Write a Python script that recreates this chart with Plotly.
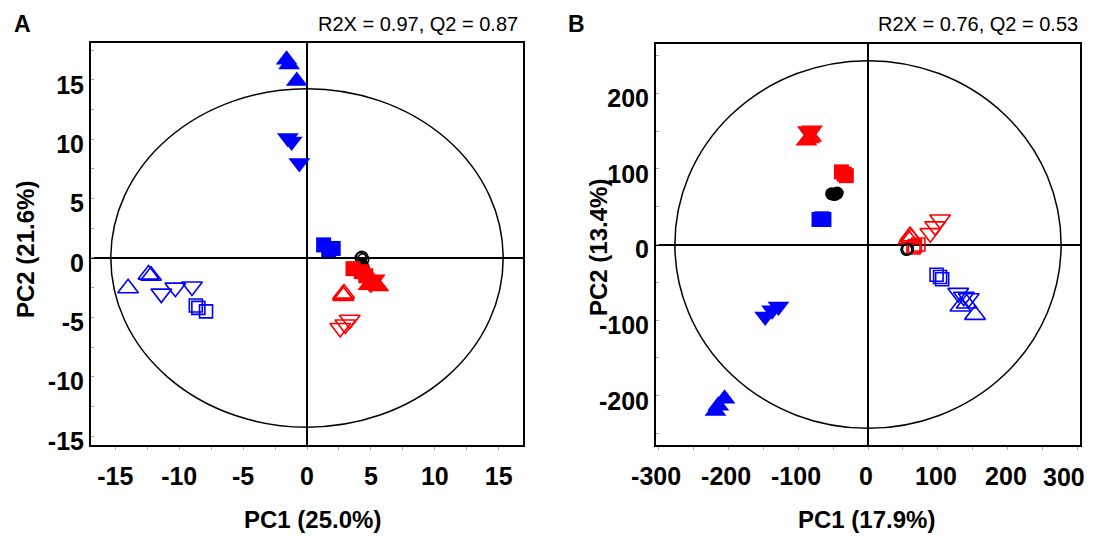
import plotly.graph_objects as go

# ---------------- data ----------------
# Panel A (PC1 25.0 %, PC2 21.6 %)
a_blue_fill_up_x = [-1.6, -1.4, -0.8]
a_blue_fill_up_y = [16.7, 16.3, 14.9]
a_blue_fill_dn_x = [-1.5, -1.2, -0.6]
a_blue_fill_dn_y = [10.1, 9.8, 8.0]
a_blue_fill_sq_x = [1.3, 2.05, 1.7]
a_blue_fill_sq_y = [1.1, 0.8, 0.7]
a_blue_open_up_x = [-14.0, -12.4, -12.2]
a_blue_open_up_y = [-2.55, -1.4, -1.5]
a_blue_open_dn_x = [-11.4, -10.3, -9.0]
a_blue_open_dn_y = [-3.0, -2.5, -2.4]
a_blue_open_sq_x = [-8.7, -8.5, -7.9]
a_blue_open_sq_y = [-4.0, -4.2, -4.5]
a_red_fill_up_x = [4.8, 5.2, 5.6]
a_red_fill_up_y = [-2.3, -2.0, -2.4]
a_red_fill_dn_x = [4.7, 5.0, 5.3]
a_red_fill_dn_y = [-1.9, -2.2, -1.8]
a_red_fill_sq_x = [3.6, 4.25, 4.6]
a_red_fill_sq_y = [-0.9, -1.15, -1.5]
a_red_open_up_x = [2.8, 2.9, 2.85]
a_red_open_up_y = [-3.1, -3.0, -3.2]
a_red_open_dn_x = [2.6, 3.0, 3.35]
a_red_open_dn_y = [-5.9, -5.6, -5.2]
a_black_fill_x = [4.3, 4.4]
a_black_fill_y = [-0.6, -0.8]
a_black_open_x = [4.3, 4.4, 4.2]
a_black_open_y = [0.1, -0.1, 0.0]
a_ellipse = [15.35, 14.25]          # Hotelling T2 semi-axes (PC1, PC2)
a_x_ticks = [-15, -10, -5, 0, 5, 10, 15]
a_y_ticks = [-15, -10, -5, 0, 5, 10, 15]

# Panel B (PC1 17.9 %, PC2 13.4 %)
b_blue_fill_up_x = [-218, -214, -205]
b_blue_fill_up_y = [-220, -213, -204]
b_blue_fill_dn_x = [-147, -137, -128]
b_blue_fill_dn_y = [-95, -87, -82]
b_blue_fill_sq_x = [-70, -63, -66]
b_blue_fill_sq_y = [33, 33, 34]
b_blue_open_up_x = [132, 141, 153]
b_blue_open_up_y = [-82, -78, -93]
b_blue_open_dn_x = [129, 137, 144]
b_blue_open_dn_y = [-64, -69, -71]
b_blue_open_sq_x = [98, 103, 106]
b_blue_open_sq_y = [-40, -43, -46]
b_red_fill_up_x = [-88, -84, -81]
b_red_fill_up_y = [137, 140, 142]
b_red_fill_dn_x = [-86, -83, -80]
b_red_fill_dn_y = [150, 147, 151]
b_red_fill_sq_x = [-38, -31, -34]
b_red_fill_sq_y = [96, 91, 93]
b_red_open_up_x = [60, 58, 62]
b_red_open_up_y = [11, 7, 9]
b_red_open_dn_x = [103, 96, 89]
b_red_open_dn_y = [33, 24, 15]
b_red_open_sq_x = [67, 72, 65]
b_red_open_sq_y = [-2, 0, -4]
b_black_fill_x = [-52, -44, -48]
b_black_fill_y = [67, 68, 66]
b_black_open_x = [55, 57]
b_black_open_y = [-7, -6]
b_ellipse = [276, 243]
b_x_ticks = [-300, -200, -100, 0, 100, 200, 300]
b_y_ticks = [-200, -100, 0, 100, 200]

BLUE = "#0000FF"
RED = "#FF0000"
BLACK = "#000000"
FONT = "Liberation Sans, Arial, sans-serif"

# page offset of the plot div (browser default body margin)
OFF = 8
W, H = 1080, 528


def px_x(p):
    return (p - OFF) / W


def px_y(p):
    return 1 - (p - OFF) / H


fig = go.Figure()


def add(xs, ys, color, symbol, size, axes):
    xa, ya = axes
    opened = symbol.endswith("-open")
    fig.add_trace(go.Scatter(
        x=xs, y=ys, mode="markers", xaxis=xa, yaxis=ya, showlegend=False,
        marker=dict(symbol=symbol, size=size, color=color,
                    line=dict(color=color, width=1.6 if opened else 0)),
    ))


for axes, d in (
    (("x", "y"), dict(
        bou=(a_blue_open_up_x, a_blue_open_up_y), bod=(a_blue_open_dn_x, a_blue_open_dn_y),
        bos=(a_blue_open_sq_x, a_blue_open_sq_y), rou=(a_red_open_up_x, a_red_open_up_y),
        rod=(a_red_open_dn_x, a_red_open_dn_y), ros=None,
        kf=(a_black_fill_x, a_black_fill_y), ko=(a_black_open_x, a_black_open_y),
        bfu=(a_blue_fill_up_x, a_blue_fill_up_y), bfd=(a_blue_fill_dn_x, a_blue_fill_dn_y),
        bfs=(a_blue_fill_sq_x, a_blue_fill_sq_y), rfu=(a_red_fill_up_x, a_red_fill_up_y),
        rfd=(a_red_fill_dn_x, a_red_fill_dn_y), rfs=(a_red_fill_sq_x, a_red_fill_sq_y))),
    (("x2", "y2"), dict(
        bou=(b_blue_open_up_x, b_blue_open_up_y), bod=(b_blue_open_dn_x, b_blue_open_dn_y),
        bos=(b_blue_open_sq_x, b_blue_open_sq_y), rou=(b_red_open_up_x, b_red_open_up_y),
        rod=(b_red_open_dn_x, b_red_open_dn_y), ros=(b_red_open_sq_x, b_red_open_sq_y),
        kf=(b_black_fill_x, b_black_fill_y), ko=(b_black_open_x, b_black_open_y),
        bfu=(b_blue_fill_up_x, b_blue_fill_up_y), bfd=(b_blue_fill_dn_x, b_blue_fill_dn_y),
        bfs=(b_blue_fill_sq_x, b_blue_fill_sq_y), rfu=(b_red_fill_up_x, b_red_fill_up_y),
        rfd=(b_red_fill_dn_x, b_red_fill_dn_y), rfs=(b_red_fill_sq_x, b_red_fill_sq_y))),
):
    spec = [
        ("bou", BLUE, "triangle-up-open", 18), ("bod", BLUE, "triangle-down-open", 18),
        ("bos", BLUE, "square-open", 13), ("rou", RED, "triangle-up-open", 18),
        ("rod", RED, "triangle-down-open", 18), ("ros", RED, "square-open", 13),
        ("ko", BLACK, "circle-open", 11), ("kf", BLACK, "circle", 13),
        ("bfu", BLUE, "triangle-up", 19), ("bfd", BLUE, "triangle-down", 19),
        ("bfs", BLUE, "square", 15), ("rfs", RED, "square", 15),
        ("rfu", RED, "triangle-up", 19), ("rfd", RED, "triangle-down", 19),
    ]
    for key, col, sym, sz in spec:
        if d.get(key) is not None:
            add(d[key][0], d[key][1], col, sym, sz, axes)

# Hotelling ellipses
for (xr, yr), (ea, eb) in ((("x", "y"), a_ellipse), (("x2", "y2"), b_ellipse)):
    fig.add_shape(type="circle", xref=xr, yref=yr, x0=-ea, x1=ea, y0=-eb, y1=eb,
                  line=dict(color=BLACK, width=1.5), layer="below")

tickfont = dict(family=FONT, size=25, color=BLACK, weight="bold")


def xaxis(dom, rng, ticks, anchor, shift=0, labels=None):
    step = ticks[1] - ticks[0]
    return dict(domain=dom, range=rng, tickvals=ticks,
                ticktext=labels if labels is not None else [str(t) for t in ticks],
                showline=True, mirror=True, linecolor=BLACK, linewidth=2,
                zeroline=True, zerolinecolor=BLACK, zerolinewidth=2,
                showgrid=False, ticks="outside", ticklen=3, tickcolor="#aaaaaa",
                minor=dict(dtick=step / 2, tick0=0, ticks="outside", ticklen=3, tickcolor="#aaaaaa"),
                tickfont=tickfont, anchor=anchor, ticklabelstandoff=5, ticklabelshift=shift,
                ticklabeloverflow="allow", automargin=False, fixedrange=True)


def yaxis(dom, rng, ticks, anchor):
    step = ticks[1] - ticks[0]
    return dict(domain=dom, range=rng, tickvals=ticks, ticktext=[str(t) for t in ticks],
                showline=True, mirror=True, linecolor=BLACK, linewidth=2,
                zeroline=True, zerolinecolor=BLACK, zerolinewidth=2,
                showgrid=False, ticks="inside", ticklen=3, tickcolor="#aaaaaa",
                minor=dict(dtick=step / 2, tick0=0, ticks="inside", ticklen=3, tickcolor="#aaaaaa"),
                tickfont=tickfont, anchor=anchor, ticklabelstandoff=0, ticklabelshift=5,
                ticklabeloverflow="allow", automargin=False, fixedrange=True)


# last label of panel B is drawn separately so it stays inside the page
b_x_labels = [str(t) for t in b_x_ticks[:-1]] + [""]

fig.update_layout(
    width=W, height=H, margin=dict(l=0, r=0, t=0, b=0, autoexpand=False),
    paper_bgcolor="white", plot_bgcolor="white",
    xaxis=xaxis([px_x(91), px_x(523)], [-16.9, 16.9], a_x_ticks, "y"),
    yaxis=yaxis([px_y(445), px_y(43)], [-15.75, 18.1], a_y_ticks, "x"),
    xaxis2=xaxis([px_x(656), px_x(1080)], [-303, 303], b_x_ticks, "y2", shift=-2, labels=b_x_labels),
    yaxis2=yaxis([px_y(445), px_y(44)], [-265, 265], b_y_ticks, "x2"),
)

title_font = dict(family=FONT, size=24, color=BLACK, weight="bold")
label_font = dict(family=FONT, size=23, color=BLACK, weight="bold")
anns = [
    dict(text="A", x=px_x(22), y=px_y(24), font=label_font),
    dict(text="B", x=px_x(576), y=px_y(24), font=label_font),
    dict(text="R2X = 0.97, Q2 = 0.87", x=px_x(520), y=px_y(24), xanchor="right",
         font=dict(family=FONT, size=20, color=BLACK)),
    dict(text="R2X = 0.76, Q2 = 0.53", x=px_x(1080), y=px_y(24), xanchor="right",
         font=dict(family=FONT, size=20, color=BLACK)),
    dict(text="PC1 (25.0%)", x=px_x(312), y=px_y(519), font=title_font),
    dict(text="PC1 (17.9%)", x=px_x(866), y=px_y(519), font=title_font),
    dict(text="PC2 (21.6%)", x=px_x(26), y=px_y(250), textangle=-90, font=title_font),
    dict(text="PC2 (13.4%)", x=px_x(598), y=px_y(248), textangle=-90, font=title_font),
    dict(text=str(b_x_ticks[-1]), x=px_x(1087), y=px_y(477), xanchor="right", font=tickfont),
]
for a in anns:
    a.setdefault("xanchor", "center")
    fig.add_annotation(xref="paper", yref="paper", yanchor="middle", showarrow=False, **a)

fig.write_html("out.html")
